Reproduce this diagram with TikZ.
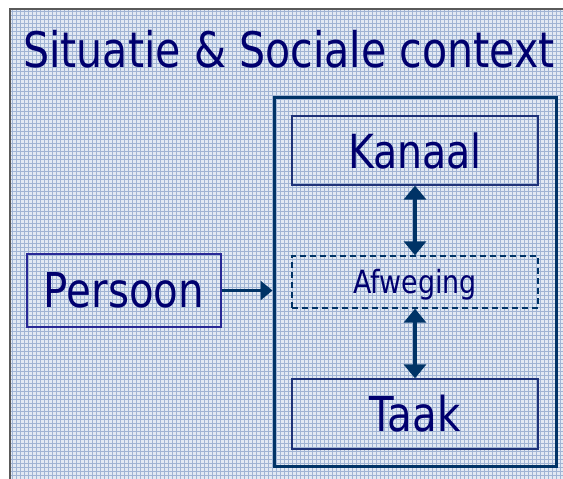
\documentclass[tikz,border=0pt]{standalone}
\usepackage{fontspec}
\setmainfont{DejaVu Sans}[FakeStretch=0.84]
\usepackage{xcolor}
\definecolor{navytext}{RGB}{0,0,110}
\definecolor{deepblue}{RGB}{0,51,102}
\definecolor{boxblue}{RGB}{30,50,120}
\definecolor{persblue}{RGB}{40,40,150}
\definecolor{weavebg}{RGB}{226,233,243}
\definecolor{weaveline}{RGB}{160,180,212}
\definecolor{framegray}{RGB}{90,90,90}
\usepackage{tikz}
\usetikzlibrary{arrows.meta,positioning,calc}

\begin{document}
\begin{tikzpicture}[x=1pt,y=-1pt,
  ttl/.style={font=\fontsize{49}{58}\selectfont,text=navytext,anchor=base},
  box/.style={draw=boxblue,line width=1.3pt,inner sep=0pt,
              minimum width=246pt,text=navytext},
  pbox/.style={draw=persblue,line width=1.3pt,inner sep=0pt,
               minimum width=194pt,minimum height=73pt,text=navytext,
               font=\fontsize{48}{56}\selectfont},
  dbox/.style={draw=deepblue,line width=1.4pt,dash pattern=on 6pt off 4pt,
               inner sep=0pt,minimum width=246pt,minimum height=52pt,
               text=navytext,font=\fontsize{32}{38}\selectfont},
  ctxbox/.style={draw=deepblue,line width=3pt,inner sep=0pt,
                 minimum width=282pt,minimum height=369pt},
  link/.style={draw=deepblue,line width=3.5pt},
  weave/.style={draw=weaveline,line width=1.5pt}
]
  \useasboundingbox (0,0) rectangle (563,479);
  \fill[white] (0,0) rectangle (563,479);
  \fill[weavebg] (10,9) rectangle (563,479);
  \foreach \gx in {12.5,16.5,...,562.5}
    \draw[weave] (\gx,9) -- (\gx,479);
  \foreach \gy in {11.5,15.5,...,478.5}
    \draw[weave] (10,\gy) -- (563,\gy);
  \draw[framegray,line width=1.2pt] (10,479) -- (10,9) -- (563,9);

  \node[ttl] (title) at (289,67) {Situatie \& Sociale context};

  \node[ctxbox] (ctx) at (415,281.5) {};
  \node[box,minimum height=69pt,font=\fontsize{47}{56}\selectfont]
    (kanaal) at (415,150.5) {Kanaal};
  \node[dbox,text depth=2pt] (afweging) at (415,282) {Afweging};
  \node[box,minimum height=70pt,font=\fontsize{48}{56}\selectfont]
    (taak) at (415,414) {Taak};
  \node[pbox] (persoon) at (124,290.5) {Persoon};

  \draw[link,{Triangle[width=22pt,length=14pt]}-{Triangle[width=22pt,length=14pt]}]
    (kanaal.south) -- (afweging.north);
  \draw[link,{Triangle[width=22pt,length=14pt]}-{Triangle[width=22pt,length=14pt]}]
    (afweging.south) -- (taak.north);
  \draw[link,line width=3pt,-{Triangle[width=19pt,length=12pt]}]
    (persoon.east) -- (persoon.east -| ctx.west);
\end{tikzpicture}
\end{document}
